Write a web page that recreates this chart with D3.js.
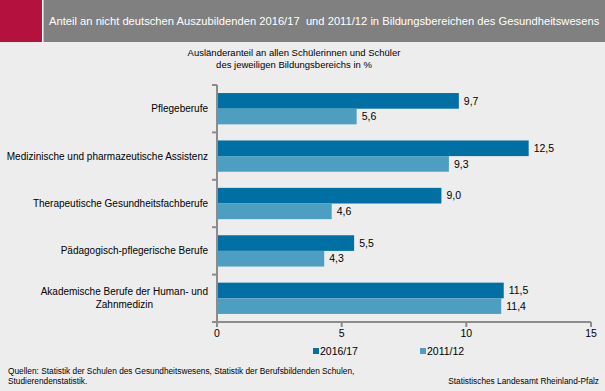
<!DOCTYPE html>
<html><head><meta charset="utf-8">
<script src="https://cdn.jsdelivr.net/npm/d3@7"></script>
<style>
html,body{margin:0;padding:0;background:#ededed;}
svg{display:block;font-family:Arial,"Liberation Sans",sans-serif;}
</style></head><body>
<script>
const categories = [
  ["Pflegeberufe"],
  ["Medizinische und pharmazeutische Assistenz"],
  ["Therapeutische Gesundheitsfachberufe"],
  ["Pädagogisch-pflegerische Berufe"],
  ["Akademische Berufe der Human- und", "Zahnmedizin"]
];
const series = ["2016/17", "2011/12"];
const values2016 = [9.7, 12.5, 9.0, 5.5, 11.5];
const values2011 = [5.6, 9.3, 4.6, 4.3, 11.4];
const xTicks = [0, 5, 10, 15];
const colors = ["#0070a4", "#4d9ec0"];

const W = 605, H = 391;
const svg = d3.select("body").append("svg").attr("width", W).attr("height", H);
svg.append("rect").attr("width", W).attr("height", H).attr("fill", "#ededed");

// header
svg.append("rect").attr("x",0).attr("y",0).attr("width",W).attr("height",42).attr("fill","#808080");
svg.append("rect").attr("x",0).attr("y",0).attr("width",42).attr("height",42).attr("fill","#b5113f");
svg.append("rect").attr("x",42).attr("y",0).attr("width",1.5).attr("height",42).attr("fill","#ffffff");
svg.append("text").attr("x",49).attr("y",25).attr("fill","#fff").attr("font-size","11.2px")
  .text("Anteil an nicht deutschen Auszubildenden 2016/17  und 2011/12 in Bildungsbereichen des Gesundheitswesens")
  .attr("xml:space","preserve").style("white-space","pre");

// subtitle
const sub = svg.append("text").attr("text-anchor","middle").attr("font-size","9.5px").attr("fill","#000");
sub.append("tspan").attr("x",294).attr("y",56).text("Ausländeranteil an allen Schülerinnen und Schüler");
sub.append("tspan").attr("x",294).attr("y",68).text("des jeweiligen Bildungsbereichs in %");

const x = d3.scaleLinear().domain([0,15]).range([217,591]);
const y = d3.scaleBand().domain(d3.range(categories.length)).range([85,322]).paddingInner(0.34).paddingOuter(0.17);
const yInner = d3.scaleBand().domain(series).range([0, y.bandwidth()]);

const rows = categories.map((c,i)=>({i, label:c, vals:[values2016[i], values2011[i]]}));

const g = svg.append("g");
rows.forEach(r=>{
  r.vals.forEach((v,j)=>{
    const yy = y(r.i) + yInner(series[j]);
    g.append("rect").attr("x",x(0)).attr("y",yy).attr("width",x(v)-x(0)).attr("height",yInner.bandwidth())
      .attr("fill",colors[j]);
    g.append("text").attr("x",x(v)+5).attr("y",yy+yInner.bandwidth()/2).attr("dy","0.35em")
      .attr("font-size","10.5px").attr("fill","#000").text(d3.format(".1f")(v).replace(".",","));
  });
  const cy = y(r.i) + y.bandwidth()/2;
  const t = g.append("text").attr("text-anchor","end").attr("font-size","10px").attr("fill","#000");
  const n = r.label.length;
  r.label.forEach((line,k)=>{
    t.append("tspan").attr("x", k===0 ? 208 : 208).attr("y", cy + (k - (n-1)/2)*13).attr("dy","0.35em").text(line);
  });
});
// center the second line for the multiline label
// (reference shows "Zahnmedizin" centered under first line)
g.selectAll("text").filter(function(){return this.childNodes.length===2;}).each(function(){
  const ts = d3.select(this).selectAll("tspan").nodes();
  const w0 = ts[0].getComputedTextLength();
  ts[1].setAttribute("x", 208 - w0/2);
  ts[1].setAttribute("text-anchor","middle");
});

// axes
const ax = svg.append("g").attr("stroke","#8c8c8c").attr("stroke-width",2);
ax.append("line").attr("x1",x(0)).attr("x2",x(0)).attr("y1",85).attr("y2",322);
ax.append("line").attr("x1",x(0)).attr("x2",x(15)).attr("y1",322).attr("y2",322);
for(let i=0;i<=categories.length;i++){
  const yy = 85 + i*(322-85)/categories.length;
  ax.append("line").attr("x1",x(0)-5).attr("x2",x(0)).attr("y1",yy).attr("y2",yy);
}
xTicks.forEach(t=>{
  ax.append("line").attr("x1",x(t)).attr("x2",x(t)).attr("y1",322).attr("y2",327);
  svg.append("text").attr("x",x(t)).attr("y",337).attr("text-anchor","middle").attr("font-size","10.5px").text(t);
});

// legend
const leg = [[313,"2016/17"],[420,"2011/12"]];
leg.forEach(([lx,lab],j)=>{
  svg.append("rect").attr("x",lx).attr("y",348).attr("width",6).attr("height",6).attr("fill",colors[j]);
  svg.append("text").attr("x",lx+7).attr("y",355).attr("font-size","10.5px").text(lab);
});

// footer
const f = svg.append("text").attr("font-size","8.3px").attr("fill","#000");
f.append("tspan").attr("x",8).attr("y",374).text("Quellen: Statistik der Schulen des Gesundheitswesens, Statistik der Berufsbildenden Schulen,");
f.append("tspan").attr("x",8).attr("y",384).text("Studierendenstatistik.");
svg.append("text").attr("x",599).attr("y",384).attr("text-anchor","end").attr("font-size","8.3px").text("Statistisches Landesamt Rheinland-Pfalz");
</script>
</body></html>
